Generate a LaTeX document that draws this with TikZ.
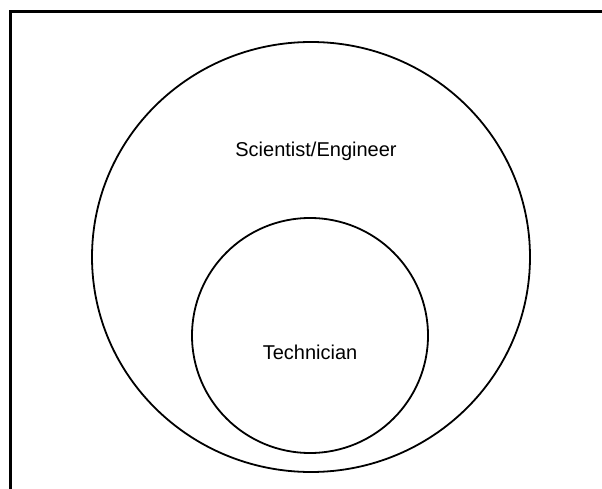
\documentclass[tikz,border=0pt]{standalone}
\usepackage{fontspec}
\setmainfont{Liberation Sans}
\begin{document}
\begin{tikzpicture}[x=1pt,y=-1pt,
  frame/.style={line width=2.2pt},
  ring/.style={line width=1.8pt},
  lbl/.style={font=\fontsize{20}{24}\selectfont}]
\useasboundingbox (0,0) rectangle (602,489);
\coordinate (fbot) at (10.5,489);
\coordinate (fcorner) at (10.5,11.5);
\coordinate (fright) at (602,11.5);
\draw[frame] (fbot) -- (fcorner) -- (fright);
\draw[ring] (311,257) ellipse [x radius=219, y radius=215];
\draw[ring] (310,335.5) ellipse [x radius=118, y radius=117.5];
\node[lbl] (sci) at (316,151) {Scientist/Engineer};
\node[lbl] (tech) at (310,352) {Technician};
\end{tikzpicture}
\end{document}
